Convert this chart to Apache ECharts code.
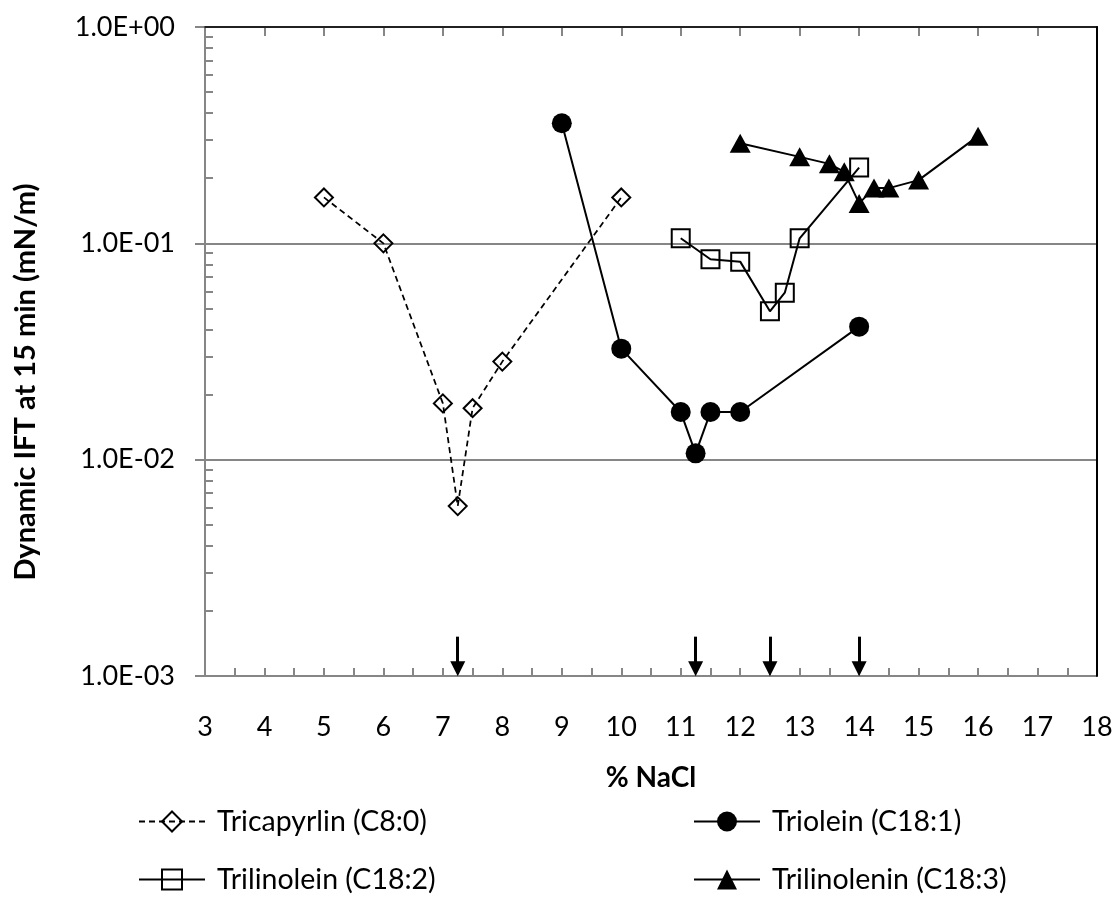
<!DOCTYPE html>
<html>
<head>
<meta charset="utf-8">
<script src="https://cdn.jsdelivr.net/npm/echarts@6/dist/echarts.min.js"></script>
<style>
html,body{margin:0;padding:0;background:#fff;}
#chart{width:1118px;height:901px;}
</style>
</head>
<body>
<div id="chart"></div>
<script>
// ---- data ----
const tricaprylinX = [5, 6, 7, 7.25, 7.5, 8, 10];
const tricaprylinY = [0.163, 0.100, 0.0182, 0.0061, 0.0173, 0.0284, 0.163];

const trioleinX = [9, 10, 11, 11.25, 11.5, 12, 14];
const trioleinY = [0.359, 0.0326, 0.0166, 0.0107, 0.0166, 0.0166, 0.0412];

const trilinoleinX = [11, 11.5, 12, 12.5, 12.75, 13, 14];
const trilinoleinY = [0.1055, 0.0844, 0.0823, 0.0485, 0.0591, 0.1055, 0.224];

const trilinoleninX = [12, 13, 13.5, 13.75, 14, 14.25, 14.5, 15, 16];
const trilinoleninY = [0.290, 0.251, 0.233, 0.214, 0.153, 0.180, 0.180, 0.196, 0.313];

const arrowX = [7.25, 11.25, 12.5, 14];
const arrowTop = 0.00152;
const arrowTip = 0.00108;

const seriesNames = ['Tricapyrlin (C8:0)', 'Triolein (C18:1)', 'Trilinolein (C18:2)', 'Trilinolenin (C18:3)'];

// ---- helpers ----
const pair = (xs, ys) => xs.map((x, i) => [x, ys[i]]);
const FONT = 'Lato';
const GRAY = '#868686';

// minor (log) tick positions on the companion log10 axis
const minorLog = [];
for (let e = -3; e < 0; e++) {
  for (let k = 1; k <= 9; k++) minorLog.push(Math.log10(k * Math.pow(10, e)));
}
minorLog.push(0);

const fmtE = v => {
  const e = Math.round(Math.log10(v));
  return '1.0E' + (e >= 0 ? '+' : '-') + String(Math.abs(e)).padStart(2, '0');
};

const chart = echarts.init(document.getElementById('chart'), null, {renderer: 'canvas'});

const legendBase = {
  orient: 'horizontal',
  padding: 0,
  itemWidth: 66,
  itemHeight: 25,
  textStyle: {fontFamily: FONT, fontSize: 28.5, color: '#000', padding: [0, 0, 0, 7]}
};

const option = {
  backgroundColor: '#fff',
  animation: false,
  grid: {left: 205, right: 21, top: 27, bottom: 225, containLabel: false},
  legend: [
    Object.assign({}, legendBase, {data: [seriesNames[0]], left: 138, top: 807}),
    Object.assign({}, legendBase, {data: [seriesNames[1]], left: 693, top: 807}),
    Object.assign({}, legendBase, {data: [seriesNames[2]], left: 138, top: 865}),
    Object.assign({}, legendBase, {data: [seriesNames[3]], left: 693, top: 865})
  ],
  xAxis: [
    {
      type: 'value', min: 3, max: 18, interval: 1, position: 'bottom',
      axisLine: {show: true, lineStyle: {color: GRAY, width: 2}},
      axisTick: {show: true, inside: false, length: 9, lineStyle: {color: GRAY, width: 2}},
      axisLabel: {fontFamily: FONT, fontSize: 27, color: '#000', margin: 38},
      splitLine: {show: false},
      name: '% NaCl', nameLocation: 'middle', nameGap: 88,
      nameTextStyle: {fontFamily: FONT, fontSize: 28, fontWeight: 'bold', color: '#000'},
      z: 3
    },
    {
      type: 'value', min: 3, max: 18, interval: 0.5, position: 'bottom',
      axisLine: {show: false},
      axisTick: {show: true, inside: true, length: 8, lineStyle: {color: GRAY, width: 2}},
      axisLabel: {show: false},
      splitLine: {show: false}
    },
    {
      type: 'value', min: 3, max: 18, position: 'top',
      axisLine: {show: true, onZero: false, lineStyle: {color: '#000', width: 1.5}},
      axisTick: {show: false}, axisLabel: {show: false}, splitLine: {show: false},
      z: 4
    }
  ],
  yAxis: [
    {
      type: 'log', logBase: 10, min: 0.001, max: 1, position: 'left',
      axisLine: {show: true, lineStyle: {color: GRAY, width: 2}},
      axisTick: {show: true, inside: false, length: 10, lineStyle: {color: GRAY, width: 2}},
      axisLabel: {fontFamily: FONT, fontSize: 27, color: '#000', margin: 30, formatter: fmtE},
      splitLine: {show: true, lineStyle: {color: GRAY, width: 2}},
      z: 3
    },
    {
      type: 'value', min: -3, max: 0, position: 'left',
      axisLine: {show: false, onZero: false},
      axisTick: {show: true, inside: true, length: 8, customValues: minorLog, lineStyle: {color: GRAY, width: 2}},
      axisLabel: {show: false},
      splitLine: {show: false}
    },
    {
      type: 'value', min: 0, max: 1, position: 'right',
      axisLine: {show: true, onZero: false, lineStyle: {color: '#000', width: 2}},
      axisTick: {show: false}, axisLabel: {show: false}, splitLine: {show: false},
      z: 4
    }
  ],
  graphic: [
    {
      type: 'text', x: 26, y: 382, rotation: Math.PI / 2,
      style: {
        text: 'Dynamic IFT at 15 min (mN/m)',
        font: 'bold 29px Lato', fill: '#000', align: 'center', verticalAlign: 'middle'
      }
    }
  ],
  series: [
    {
      name: seriesNames[0], type: 'line', data: pair(tricaprylinX, tricaprylinY),
      symbol: 'diamond', symbolSize: 18, showSymbol: true,
      lineStyle: {color: '#000', width: 1.75, type: [6, 4]},
      itemStyle: {color: 'rgba(255,255,255,0)', borderColor: '#000', borderWidth: 2},
      z: 5
    },
    {
      name: seriesNames[1], type: 'line', data: pair(trioleinX, trioleinY),
      symbol: 'circle', symbolSize: 20,
      lineStyle: {color: '#000', width: 2},
      itemStyle: {color: '#000', borderColor: '#000', borderWidth: 0},
      z: 5
    },
    {
      name: seriesNames[2], type: 'line', data: pair(trilinoleinX, trilinoleinY),
      symbol: 'rect', symbolSize: 18,
      lineStyle: {color: '#000', width: 2},
      itemStyle: {color: 'rgba(255,255,255,0)', borderColor: '#000', borderWidth: 2},
      z: 5
    },
    {
      name: seriesNames[3], type: 'line', data: pair(trilinoleninX, trilinoleninY),
      symbol: 'triangle', symbolSize: [21, 19],
      lineStyle: {color: '#000', width: 2},
      itemStyle: {color: '#000', borderColor: '#000', borderWidth: 0},
      z: 5
    },
    {
      name: 'arrows', type: 'line', data: [], silent: true,
      markLine: {
        silent: true, animation: false,
        symbol: ['none', 'triangle'], symbolSize: 15,
        label: {show: false},
        itemStyle: {color: '#000'},
        lineStyle: {color: '#000', width: 3, type: 'solid'},
        data: arrowX.map(x => [{coord: [x, arrowTop]}, {coord: [x, arrowTip]}])
      },
      z: 6
    }
  ]
};

chart.setOption(option);
</script>
</body>
</html>
